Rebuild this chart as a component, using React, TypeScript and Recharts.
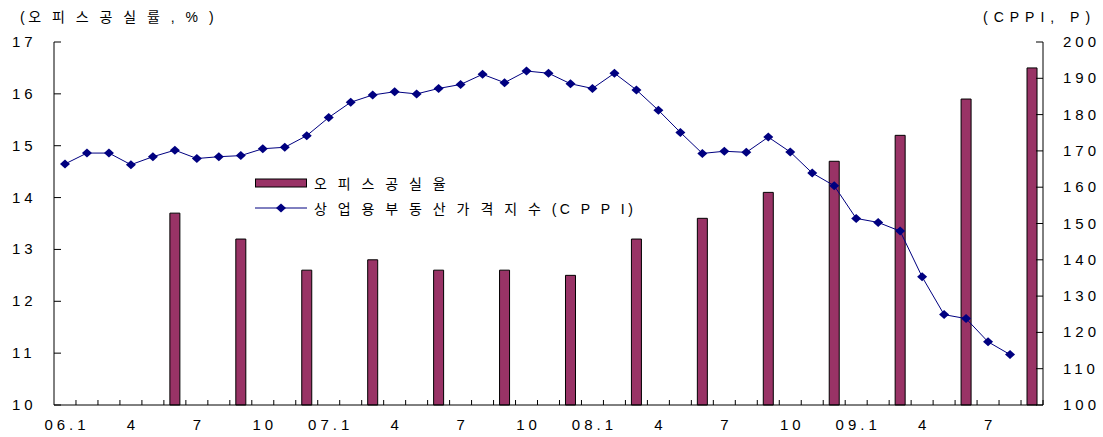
import { ComposedChart, Bar, Line, XAxis, YAxis, Legend } from "recharts";

const months = [
  "06.1", "2", "3", "4", "5", "6", "7", "8", "9", "10", "11", "12",
  "07.1", "2", "3", "4", "5", "6", "7", "8", "9", "10", "11", "12",
  "08.1", "2", "3", "4", "5", "6", "7", "8", "9", "10", "11", "12",
  "09.1", "2", "3", "4", "5", "6", "7", "8", "9",
];

// office vacancy rate (%), quarter-end months only
const vacancy = [
  null, null, null, null, null, 13.7, null, null, 13.2, null, null, 12.6,
  null, null, 12.8, null, null, 12.6, null, null, 12.6, null, null, 12.5,
  null, null, 13.2, null, null, 13.6, null, null, 14.1, null, null, 14.7,
  null, null, 15.2, null, null, 15.9, null, null, 16.5,
];

// commercial property price index
const cppi = [
  166.4, 169.4, 169.4, 166.2, 168.4, 170.2, 167.9, 168.4, 168.7, 170.6, 171.0, 174.2,
  179.2, 183.4, 185.4, 186.3, 185.7, 187.2, 188.3, 191.1, 188.8, 192.0, 191.4, 188.5,
  187.2, 191.4, 186.8, 181.2, 175.1, 169.3, 169.9, 169.6, 173.8, 169.7, 163.9, 160.4,
  151.4, 150.3, 147.9, 135.3, 124.9, 123.8, 117.4, 113.9, null,
];

const leftTicks = [10, 11, 12, 13, 14, 15, 16, 17];
const rightTicks = [100, 110, 120, 130, 140, 150, 160, 170, 180, 190, 200];

const data = months.map((m, i) => ({ month: m, vacancy: vacancy[i], cppi: cppi[i] }));

const FONT = '"Liberation Sans", Arial, "Noto Sans CJK KR", sans-serif';
const W = 1103;
const H = 437;
const LEFT_W = 54;
const RIGHT_W = 60;
const band = (W - LEFT_W - RIGHT_W) / months.length;
const BAR_COLOR = "#993366";
const LINE_COLOR = "#000080";

function XTick(props: any) {
  const { x, y, payload } = props;
  const label: string = payload.value;
  const show = label.endsWith(".1") || label === "4" || label === "7" || label === "10";
  return (
    <g>
      <line x1={x + band / 2} x2={x + band / 2} y1={y} y2={y - 5} stroke="#000" />
      {show && (
        <text x={x + 2} y={y + 25} textAnchor="middle" fontSize={15} letterSpacing={4} fill="#000" fontFamily={FONT}>
          {label}
        </text>
      )}
    </g>
  );
}

function LeftTick(props: any) {
  const { x, y, payload } = props;
  return (
    <g>
      <line x1={x} x2={x + 7} y1={y} y2={y} stroke="#000" />
      <text x={x - 42} y={y + 5} fontSize={15} letterSpacing={4} fill="#000" fontFamily={FONT}>
        {payload.value}
      </text>
    </g>
  );
}

function RightTick(props: any) {
  const { x, y, payload } = props;
  return (
    <g>
      <line x1={x} x2={x - 7} y1={y} y2={y} stroke="#000" />
      <text x={x + 20} y={y + 5} fontSize={15} letterSpacing={4} fill="#000" fontFamily={FONT}>
        {payload.value}
      </text>
    </g>
  );
}

function Diamond(props: any) {
  const { cx, cy } = props;
  if (cx == null || cy == null) return <g />;
  return (
    <polygon
      points={`${cx - 5},${cy} ${cx},${cy - 4.5} ${cx + 5},${cy} ${cx},${cy + 4.5}`}
      fill={LINE_COLOR}
    />
  );
}

function LegendBox() {
  const row = { display: "flex", alignItems: "center", height: 25 } as const;
  const txt = { letterSpacing: 3.5, marginLeft: 7, whiteSpace: "nowrap" } as const;
  return (
    <div style={{ fontFamily: FONT, fontSize: 14, color: "#000" }}>
      <div style={row}>
        <svg width={52} height={12}>
          <rect x={0.5} y={2} width={51} height={8} fill={BAR_COLOR} stroke="#000" />
        </svg>
        <span style={txt}>오 피 스 공 실 율</span>
      </div>
      <div style={row}>
        <svg width={52} height={12}>
          <line x1={0} x2={52} y1={6} y2={6} stroke={LINE_COLOR} strokeWidth={1} />
          <polygon points="21,6 26,1.5 31,6 26,10.5" fill={LINE_COLOR} />
        </svg>
        <span style={txt}>상 업 용 부 동 산 가 격 지 수 (C P P I)</span>
      </div>
    </div>
  );
}

export default function App() {
  const title = {
    position: "absolute",
    top: 7,
    fontFamily: FONT,
    fontSize: 14,
    lineHeight: "20px",
    color: "#000",
    whiteSpace: "nowrap",
  } as const;
  return (
    <div style={{ position: "absolute", left: 0, top: 0, width: W, height: H, background: "#fff" }}>
      <ComposedChart width={W} height={H} data={data} margin={{ top: 42, right: 0, bottom: 0, left: 0 }}>
        <XAxis
          dataKey="month"
          interval={0}
          height={32}
          tickLine={false}
          tickSize={0}
          tickMargin={0}
          axisLine={{ stroke: "#000" }}
          tick={<XTick />}
        />
        <YAxis
          yAxisId="left"
          domain={[10, 17]}
          ticks={leftTicks}
          width={LEFT_W}
          tickLine={false}
          tickSize={0}
          tickMargin={0}
          axisLine={{ stroke: "#000" }}
          tick={<LeftTick />}
        />
        <YAxis
          yAxisId="right"
          orientation="right"
          domain={[100, 200]}
          ticks={rightTicks}
          width={RIGHT_W}
          tickLine={false}
          tickSize={0}
          tickMargin={0}
          axisLine={{ stroke: "#000" }}
          tick={<RightTick />}
        />
        <Legend
          layout="horizontal"
          verticalAlign="middle"
          align="center"
          content={<LegendBox />}
          wrapperStyle={{ left: 255, top: 170, width: "auto", height: "auto" }}
        />
        <Bar
          yAxisId="left"
          dataKey="vacancy"
          barSize={10}
          fill={BAR_COLOR}
          stroke="#000"
          strokeWidth={1}
          isAnimationActive={false}
        />
        <Line
          yAxisId="right"
          dataKey="cppi"
          stroke={LINE_COLOR}
          strokeWidth={1}
          dot={<Diamond />}
          activeDot={false}
          isAnimationActive={false}
        />
      </ComposedChart>
      <div style={{ ...title, left: 20, letterSpacing: 3.5 }}>(오 피 스 공 실 률 , % )</div>
      <div style={{ ...title, left: 983, letterSpacing: 6 }}>(CPPI, P)</div>
    </div>
  );
}
